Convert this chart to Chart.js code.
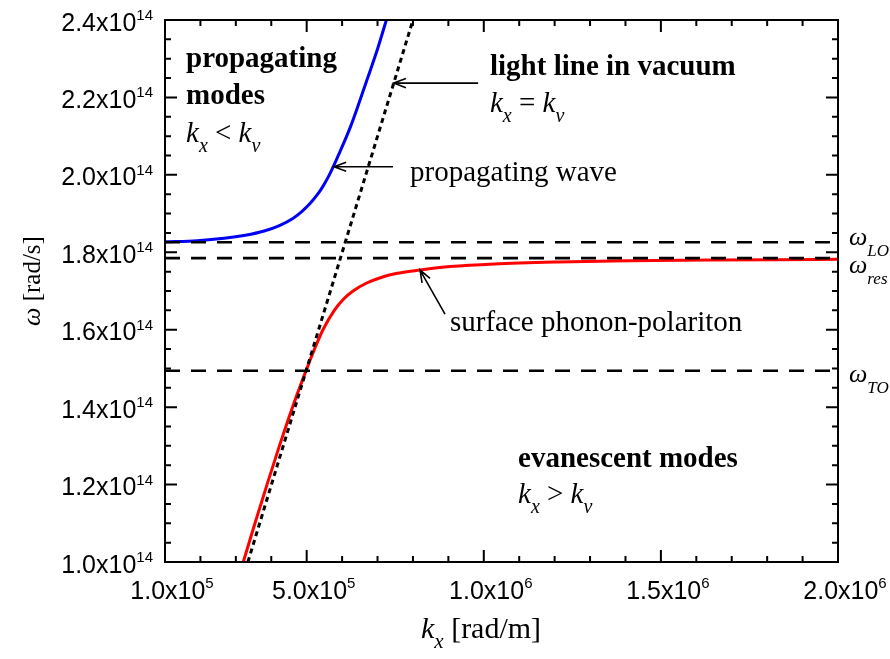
<!DOCTYPE html>
<html>
<head>
<meta charset="utf-8">
<script src="https://cdn.jsdelivr.net/npm/chart.js@4"></script>
<style>
  html, body { margin: 0; padding: 0; background: #fff; }
  canvas { display: block; }
</style>
</head>
<body>
<canvas id="dispersionChart" width="890" height="659"></canvas>
<script>
// upper (propagating) branch, k_x < k_v
const upperK = [1.0e5, 1.91e5, 2.67e5, 3.27e5, 3.80e5, 4.23e5, 4.62e5, 4.86e5, 5.10e5, 5.31e5, 5.45e5, 5.64e5, 5.95e5, 6.235e5, 6.48e5, 6.72e5, 7.0e5, 7.25e5];
const upperW = [1.827e14, 1.830e14, 1.836e14, 1.844e14, 1.855e14, 1.869e14, 1.888e14, 1.905e14, 1.9265e14, 1.95e14, 1.969e14, 2.0e14, 2.062e14, 2.124e14, 2.186e14, 2.25e14, 2.325e14, 2.40e14];

// lower branch, surface phonon-polariton
const lowerK = [3.21e5, 3.54e5, 3.88e5, 4.23e5, 4.60e5, 4.98e5, 5.09e5, 5.22e5, 5.46e5, 5.78e5, 6.05e5, 6.31e5, 6.68e5, 7.10e5, 7.52e5, 8.20e5, 9.05e5, 1.03e6, 1.21e6, 1.41e6, 1.64e6, 1.82e6, 2.0e6];
const lowerW = [1.0e14, 1.1e14, 1.2e14, 1.3e14, 1.4e14, 1.494e14, 1.52e14, 1.55e14, 1.60e14, 1.65e14, 1.68e14, 1.70e14, 1.72e14, 1.735e14, 1.745e14, 1.754e14, 1.763e14, 1.770e14, 1.775e14, 1.778e14, 1.780e14, 1.781e14, 1.7817e14];

// light line in vacuum (end points)
const lightK = [3.34e5, 8.0e5];
const lightW = [1.0e14, 2.4e14];

// characteristic frequencies
const levelNames = ['LO', 'res', 'TO'];
const levelW = [1.826e14, 1.785e14, 1.494e14];

const xTicks = [1e5, 5e5, 1e6, 1.5e6, 2e6];
const xTickLabels = [['1.0x10', '5'], ['5.0x10', '5'], ['1.0x10', '6'], ['1.5x10', '6'], ['2.0x10', '6']];
const yTicks = [1.0e14, 1.2e14, 1.4e14, 1.6e14, 1.8e14, 2.0e14, 2.2e14, 2.4e14];
const yTickLabels = ['1.0x10', '1.2x10', '1.4x10', '1.6x10', '1.8x10', '2.0x10', '2.2x10', '2.4x10'];

const SERIF = '"Liberation Serif", "Times New Roman", serif';
const SANS = '"Liberation Sans", Arial, sans-serif';

const big = '29px ' + SERIF, bold = 'bold 29px ' + SERIF;
const ital = 'italic 29px ' + SERIF, sub = 'italic 20px ' + SERIF;

// text blocks placed in data coordinates (left edge, baseline)
const notes = [
  { k: 1.593e5, w: 2.2786e14, parts: [['propagating', bold]] },
  { k: 1.593e5, w: 2.183e14, parts: [['modes', bold]] },
  { k: 1.593e5, w: 2.0848e14, parts: [['k', ital], ['x', sub, 10], [' < ', big], ['k', ital], ['v', sub, 10]] },
  { k: 1.0175e6, w: 2.2579e14, parts: [['light line in vacuum', bold]] },
  { k: 1.0175e6, w: 2.1623e14, parts: [['k', ital], ['x', sub, 10], [' = ', big], ['k', ital], ['v', sub, 10]] },
  { k: 7.917e5, w: 1.9841e14, parts: [['propagating wave', big]] },
  { k: 9.046e5, w: 1.5966e14, parts: [['surface phonon-polariton', big]] },
  { k: 1.0966e6, w: 1.2453e14, parts: [['evanescent modes', bold]] },
  { k: 1.0966e6, w: 1.1523e14, parts: [['k', ital], ['x', sub, 10], [' > ', big], ['k', ital], ['v', sub, 10]] }
];

// arrows: tail -> tip, data coordinates
const arrows = [
  [9.84e5, 2.237e14, 7.457e5, 2.237e14],
  [7.437e5, 2.021e14, 5.771e5, 2.021e14],
  [8.905e5, 1.6405e14, 8.2e5, 1.754e14]
];

// baselines of the omega labels right of the frame
const levelLabelW = [1.8188e14, 1.7464e14, 1.4648e14];

function pts(xs, ys) {
  return xs.map((x, i) => ({ x: x, y: ys[i] }));
}

function drawRuns(ctx, x, y, parts, align) {
  let w = 0;
  parts.forEach(p => { ctx.font = p[1]; w += ctx.measureText(p[0]).width; });
  let cx = align === 'right' ? x - w : (align === 'center' ? x - w / 2 : x);
  parts.forEach(p => {
    ctx.font = p[1];
    ctx.fillText(p[0], cx, y + (p[2] || 0));
    cx += ctx.measureText(p[0]).width;
  });
}

function drawArrow(ctx, x1, y1, x2, y2) {
  const a = Math.atan2(y2 - y1, x2 - x1), len = 13, spread = 0.36;
  ctx.beginPath();
  ctx.moveTo(x1, y1);
  ctx.lineTo(x2, y2);
  ctx.moveTo(x2 - len * Math.cos(a - spread), y2 - len * Math.sin(a - spread));
  ctx.lineTo(x2, y2);
  ctx.lineTo(x2 - len * Math.cos(a + spread), y2 - len * Math.sin(a + spread));
  ctx.stroke();
}

const framePlugin = {
  id: 'frame',
  afterDraw(chart) {
    const ctx = chart.ctx, area = chart.chartArea;
    const xs = chart.scales.x, ys = chart.scales.y;
    ctx.save();
    ctx.strokeStyle = '#000';
    ctx.fillStyle = '#000';
    ctx.lineWidth = 2;
    ctx.strokeRect(area.left, area.top, area.right - area.left, area.bottom - area.top);

    // inward ticks on all four sides
    ctx.beginPath();
    for (let i = 1; i <= 20; i++) {
      const v = i * 1e5;
      const p = xs.getPixelForValue(v);
      const len = (v % 5e5 === 0) ? 12 : 6;
      ctx.moveTo(p, area.bottom); ctx.lineTo(p, area.bottom - len);
      ctx.moveTo(p, area.top); ctx.lineTo(p, area.top + len);
    }
    for (let i = 0; i <= 28; i++) {
      const p = ys.getPixelForValue(1e14 + i * 0.05e14);
      const len = (i % 4 === 0) ? 12 : 6;
      ctx.moveTo(area.left, p); ctx.lineTo(area.left + len, p);
      ctx.moveTo(area.right, p); ctx.lineTo(area.right - len, p);
    }
    ctx.stroke();

    // tick labels with exponents
    ctx.textBaseline = 'alphabetic';
    yTicks.forEach((v, i) => {
      const p = ys.getPixelForValue(v);
      drawRuns(ctx, area.left - 12, p + 10.5, [[yTickLabels[i], '25px ' + SANS], ['14', '15px ' + SANS, -10.5]], 'right');
    });
    xTicks.forEach((v, i) => {
      const p = xs.getPixelForValue(v);
      drawRuns(ctx, p + 7, area.bottom + 37, [[xTickLabels[i][0], '25px ' + SANS], [xTickLabels[i][1], '15px ' + SANS, -11]], 'center');
    });

    // axis titles
    drawRuns(ctx, 421, 638, [['k', 'italic 30px ' + SERIF], ['x', 'italic 21px ' + SERIF, 10], [' [rad/m]', '30px ' + SERIF]], 'left');
    ctx.save();
    ctx.translate(40, 281);
    ctx.rotate(-Math.PI / 2);
    drawRuns(ctx, 0, 0, [['\u03c9', 'italic 26px ' + SERIF], [' [rad/s]', '25px ' + SERIF]], 'center');
    ctx.restore();

    // omega level labels
    levelNames.forEach((n, i) => {
      drawRuns(ctx, area.right + 11, ys.getPixelForValue(levelLabelW[i]),
        [['\u03c9', 'italic 26px ' + SERIF], [n, 'italic 17px ' + SERIF, 11]], 'left');
    });

    // annotations
    notes.forEach(n => {
      drawRuns(ctx, xs.getPixelForValue(n.k), ys.getPixelForValue(n.w), n.parts, 'left');
    });
    ctx.lineWidth = 1.6;
    arrows.forEach(a => {
      drawArrow(ctx, xs.getPixelForValue(a[0]), ys.getPixelForValue(a[1]),
        xs.getPixelForValue(a[2]), ys.getPixelForValue(a[3]));
    });
    ctx.restore();
  }
};

const levelSets = levelW.map(w => ({
  data: pts([1e5, 2e6], [w, w]),
  borderColor: '#000',
  borderWidth: 2.6,
  borderDash: [15, 11],
  pointRadius: 0,
  showLine: true
}));

const dispersionChart = new Chart(document.getElementById('dispersionChart'), {
  type: 'scatter',
  data: {
    datasets: levelSets.concat([
      {
        data: pts(lightK, lightW),
        borderColor: '#000',
        borderWidth: 3,
        borderDash: [5, 4],
        pointRadius: 0,
        showLine: true
      },
      {
        data: pts(upperK, upperW),
        borderColor: '#0000f5',
        borderWidth: 3,
        pointRadius: 0,
        showLine: true,
        cubicInterpolationMode: 'monotone'
      },
      {
        data: pts(lowerK, lowerW),
        borderColor: '#ff0000',
        borderWidth: 3,
        pointRadius: 0,
        showLine: true,
        cubicInterpolationMode: 'monotone'
      }
    ])
  },
  options: {
    responsive: false,
    animation: false,
    layout: { padding: { left: 165, top: 20, right: 52, bottom: 97 } },
    plugins: { legend: { display: false }, tooltip: { enabled: false } },
    scales: {
      x: { type: 'linear', min: 1e5, max: 2e6, display: false },
      y: { type: 'linear', min: 1e14, max: 2.4e14, display: false }
    }
  },
  plugins: [framePlugin]
});
</script>
</body>
</html>
